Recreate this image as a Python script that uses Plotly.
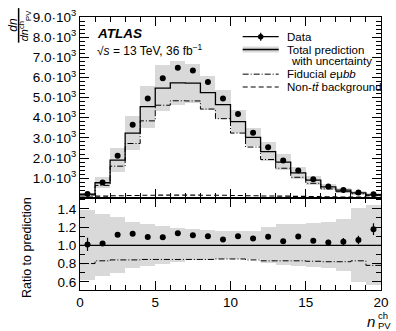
import plotly.graph_objects as go

# ---- data ----
bin_edges = list(range(0, 21))
data = [210, 790, 2120, 3650, 4960, 5960, 6480, 6350, 5770, 4950,
        4190, 3260, 2540, 1880, 1380, 950, 590, 420, 290, 200]
data_err = [15, 16, 25, 35, 40, 45, 45, 45, 40, 35,
            30, 25, 22, 20, 18, 16, 18, 16, 13, 11]
pred = [208, 775, 1900, 3240, 4550, 5470, 5730, 5720, 5245, 4650,
        3810, 3030, 2320, 1800, 1260, 905, 573, 404, 274, 170]
pred_rel_unc = [0.38, 0.345, 0.31, 0.255, 0.23, 0.21, 0.19, 0.17, 0.16, 0.155,
                0.15, 0.15, 0.195, 0.225, 0.235, 0.245, 0.255, 0.29, 0.41, 0.44]
fid_ratio = [0.80, 0.83, 0.84, 0.84, 0.845, 0.845, 0.845, 0.845, 0.845, 0.85,
             0.85, 0.84, 0.83, 0.83, 0.83, 0.825, 0.82, 0.82, 0.83, 0.78]
bkg = [70, 110, 130, 140, 150, 160, 160, 160, 150, 150,
       140, 130, 120, 110, 100, 90, 80, 70, 60, 50]
ytick_vals = [1000, 2000, 3000, 4000, 5000, 6000, 7000, 8000, 9000]
ytick_text = ["1.0·10<sup>3</sup>", "2.0·10<sup>3</sup>", "3.0·10<sup>3</sup>",
              "4.0·10<sup>3</sup>", "5.0·10<sup>3</sup>", "6.0·10<sup>3</sup>",
              "7.0·10<sup>3</sup>", "8.0·10<sup>3</sup>", "9.0·10<sup>3</sup>"]
rtick_vals = [0.6, 0.8, 1.0, 1.2, 1.4]
rtick_text = ["0.6", "0.8", "1.0", "1.2", "1.4"]
xtick_vals = [0, 5, 10, 15, 20]
xtick_text = ["0", "5", "10", "15", "20"]

# ---- derived ----
centers = [(a + b) / 2 for a, b in zip(bin_edges[:-1], bin_edges[1:])]
widths = [b - a for a, b in zip(bin_edges[:-1], bin_edges[1:])]
fid = [p * r for p, r in zip(pred, fid_ratio)]
ratio = [d / p for d, p in zip(data, pred)]
ratio_err = [e / p for e, p in zip(data_err, pred)]
band_lo = [p * (1 - u) for p, u in zip(pred, pred_rel_unc)]
band_h = [2 * p * u for p, u in zip(pred, pred_rel_unc)]
rband_lo = [1 - u for u in pred_rel_unc]
rband_h = [2 * u for u in pred_rel_unc]
ones = [1.0] * len(pred)

def step(v):
    return list(v) + [v[-1]]

FONT = "Liberation Sans, Arial, sans-serif"
GRAY = "#d9d9d9"
DASHDOT = "6px,2px,1px,2px"
DASH = "5px,3px"

fig = go.Figure()
fig.add_trace(go.Bar(x=centers, y=band_h, base=band_lo, width=widths,
                     marker=dict(color=GRAY, line=dict(width=0)),
                     xaxis="x", yaxis="y", showlegend=False, hoverinfo="skip"))
fig.add_trace(go.Scatter(x=bin_edges, y=step(bkg), mode="lines", line_shape="hv",
                         line=dict(color="black", width=1.1, dash=DASH),
                         xaxis="x", yaxis="y", showlegend=False))
fig.add_trace(go.Scatter(x=bin_edges, y=step(fid), mode="lines", line_shape="hv",
                         line=dict(color="black", width=1.0, dash=DASHDOT),
                         xaxis="x", yaxis="y", showlegend=False))
fig.add_trace(go.Scatter(x=bin_edges, y=step(pred), mode="lines", line_shape="hv",
                         line=dict(color="black", width=1.3),
                         xaxis="x", yaxis="y", showlegend=False))
fig.add_trace(go.Scatter(x=centers, y=data, mode="markers",
                         marker=dict(color="black", size=6),
                         error_y=dict(type="data", array=data_err, color="black",
                                      thickness=1.2, width=0),
                         xaxis="x", yaxis="y", showlegend=False))
fig.add_trace(go.Bar(x=centers, y=rband_h, base=rband_lo, width=widths,
                     marker=dict(color=GRAY, line=dict(width=0)),
                     xaxis="x2", yaxis="y2", showlegend=False, hoverinfo="skip"))
fig.add_trace(go.Scatter(x=bin_edges, y=step(fid_ratio), mode="lines", line_shape="hv",
                         line=dict(color="black", width=1.0, dash=DASHDOT),
                         xaxis="x2", yaxis="y2", showlegend=False))
fig.add_trace(go.Scatter(x=bin_edges, y=step(ones), mode="lines", line_shape="hv",
                         line=dict(color="black", width=1.3),
                         xaxis="x2", yaxis="y2", showlegend=False))
fig.add_trace(go.Scatter(x=centers, y=ratio, mode="markers",
                         marker=dict(color="black", size=6),
                         error_y=dict(type="data", array=ratio_err, color="black",
                                      thickness=1.2, width=0),
                         xaxis="x2", yaxis="y2", showlegend=False))

L, R, T, B = 80, 389, 13, 290
W, H = R - L, B - T
def px(x):
    return (x - L) / W
def py(y):
    return (B - y) / H
split = 197

axis_common = dict(showline=True, linecolor="black", linewidth=1.2, mirror="ticks",
                   ticks="inside", tickcolor="black", showgrid=False, zeroline=False,
                   ticklen=9, tickwidth=1.1,
                   tickfont=dict(family=FONT, size=13.5, color="black"))
def minor(d):
    return dict(dtick=d, ticks="inside", ticklen=5, tickcolor="black", tickwidth=1)

fig.update_layout(
    width=396, height=331, margin=dict(l=L, r=396 - R, t=T, b=331 - B),
    paper_bgcolor="white", plot_bgcolor="white", bargap=0, barmode="overlay",
    font=dict(family=FONT, color="black"),
    xaxis=dict(range=[0, 20], domain=[0, 1], anchor="y", matches="x2",
               tickvals=xtick_vals, showticklabels=False, minor=minor(1), **axis_common),
    yaxis=dict(range=[0, 9000], domain=[py(split), 1], anchor="x",
               tickvals=ytick_vals, ticktext=ytick_text, minor=minor(200), **axis_common),
    xaxis2=dict(range=[0, 20], domain=[0, 1], anchor="y2",
                tickvals=xtick_vals, ticktext=xtick_text, minor=minor(1), **axis_common),
    yaxis2=dict(range=[0.51, 1.515], domain=[0, py(split)], anchor="x2",
                tickvals=rtick_vals, ticktext=rtick_text, minor=minor(0.1), **axis_common),
)

ann = []
def text(x, y, s, size=11.5, anchor="left", angle=0, yanchor="middle"):
    ann.append(dict(x=px(x), y=py(y), xref="paper", yref="paper", text=s,
                    showarrow=False, xanchor=anchor, yanchor=yanchor, textangle=angle,
                    font=dict(family=FONT, size=size, color="black")))

text(95, 30, "<b><i>ATLAS</i></b>", size=13.5)
text(95, 46, "√<i>s</i> = 13 TeV, 36 fb<sup>−1</sup>", size=12)

lx0, lx1, tx = 247, 284, 290
ly = [33, 46, 58, 71, 84]
text(tx, ly[0], "Data")
text(tx, ly[1], "Total prediction")
text(tx + 5, ly[2], "with uncertainty")
text(tx, ly[3], "Fiducial <i>e</i>μ<i>bb</i>")
text(tx, ly[4], "Non-<i>t</i><i>t\u0304</i> background")

xm = (lx0 + lx1) / 2
shapes = []
shapes.append(dict(type="line", xref="paper", yref="paper", x0=px(lx0), x1=px(lx1),
                   y0=py(ly[0]), y1=py(ly[0]), line=dict(color="black", width=1.3)))
shapes.append(dict(type="line", xref="paper", yref="paper", x0=px(xm), x1=px(xm),
                   y0=py(ly[0] - 4), y1=py(ly[0] + 4), line=dict(color="black", width=1.2)))
shapes.append(dict(type="circle", xref="paper", yref="paper",
                   x0=px(xm - 2.8), x1=px(xm + 2.8),
                   y0=py(ly[0] + 2.8), y1=py(ly[0] - 2.8), fillcolor="black", line=dict(width=0)))
shapes.append(dict(type="rect", xref="paper", yref="paper", x0=px(lx0), x1=px(lx1),
                   y0=py(ly[1] + 3), y1=py(ly[1] - 3), fillcolor=GRAY, line=dict(width=0)))
shapes.append(dict(type="line", xref="paper", yref="paper", x0=px(lx0), x1=px(lx1),
                   y0=py(ly[1]), y1=py(ly[1]), line=dict(color="black", width=1.3)))
shapes.append(dict(type="line", xref="paper", yref="paper", x0=px(lx0), x1=px(lx1),
                   y0=py(ly[3]), y1=py(ly[3]), line=dict(color="black", width=1.0, dash=DASHDOT)))
shapes.append(dict(type="line", xref="paper", yref="paper", x0=px(lx0), x1=px(lx1),
                   y0=py(ly[4]), y1=py(ly[4]), line=dict(color="black", width=1.1, dash=DASH)))

text(11, 21, "<i>dn</i>", size=12, anchor="center", angle=-90)
shapes.append(dict(type="line", xref="paper", yref="paper", x0=px(17), x1=px(17),
                   y0=py(4), y1=py(39), line=dict(color="black", width=1.5)))
text(23, 21, "<i>dn</i><sup>ch</sup><sub>PV</sub>", size=11, anchor="center", angle=-90)

text(25, 247, "Ratio to prediction", size=12.5, anchor="center", angle=-90)

text(385, 322, "<i>n</i>", size=15, anchor="right")
text(384, 316, "ch", size=9.5)
text(384, 326, "PV", size=9.5)

fig.update_layout(annotations=ann, shapes=shapes)
fig.write_html("out.html")
